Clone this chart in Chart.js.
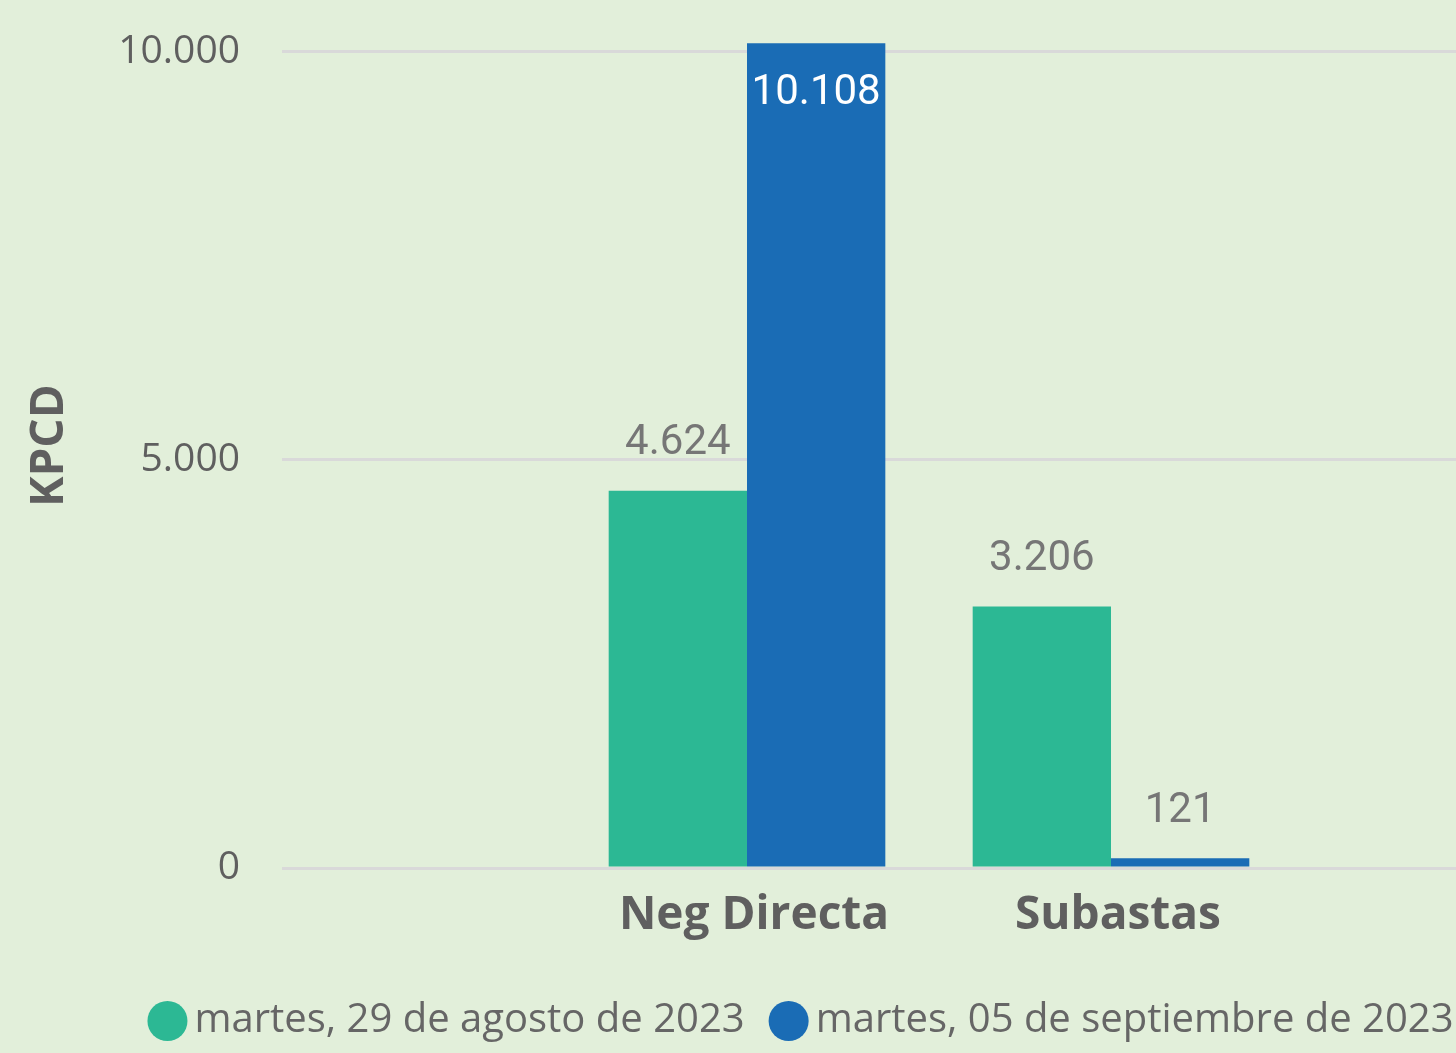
<!DOCTYPE html>
<html lang="es">
<head>
<meta charset="utf-8">
<title>KPCD</title>
<script src="https://cdn.jsdelivr.net/npm/chart.js@4.4.0/dist/chart.umd.min.js"></script>
<style>
	html, body { margin: 0; padding: 0; background: #E2EFDA; }
	#chart-wrapper { width: 1456px; height: 1053px; }
</style>
</head>
<body>
<div id="chart-wrapper"><canvas id="kpcd-chart" width="1456" height="1053"></canvas></div>
<script>
// Chart data (KPCD)
const categories = ['Neg Directa', 'Subastas'];
const seriesLabels = ['martes, 29 de agosto de 2023', 'martes, 05 de septiembre de 2023'];
const valuesAug29 = [4624, 3206];
const valuesSep05 = [10108, 121];
const yTicks = [0, 5000, 10000];

const seriesColors = ['#2CB894', '#1A6CB5'];
const textGray = '#5F5F5F';

/* 10000 -> "10.000" */
function formatNumber(value) {
	return value.toString().replace(/\B(?=(\d{3})+(?!\d))/g, '.');
}

// Categories sit at x = 1, 2 on a linear axis
function toPoints(values) {
	return values.map((value, i) => ({ x: i + 1, y: value }));
}

/* Value labels over the bars, inside the bar when there is no room above */
const valueLabels = {
	id: 'valueLabels',
	afterDatasetsDraw(chart) {
		const ctx = chart.ctx;
		ctx.save();
		ctx.font = '42px Roboto';
		ctx.textAlign = 'center';
		ctx.textBaseline = 'middle';
		chart.data.datasets.forEach((dataset, i) => {
			chart.getDatasetMeta(i).data.forEach((bar, j) => {
				const text = formatNumber(dataset.data[j].y);
				let y = bar.y - 47;
				if (y - 16 < chart.chartArea.top) {
					y = bar.y + 50;
					ctx.fillStyle = '#FFFFFF';
				} else {
					ctx.fillStyle = '#767676';
				}
				ctx.fillText(text, bar.x, y);
			});
		});
		ctx.restore();
	}
};

/* Legend sits a bit to the right, like in the original report */
const legendShift = {
	id: 'legendShift',
	afterLayout(chart) {
		chart.legend.left += 79;
		chart.legend.right += 79;
	}
};

const ctx = document.getElementById('kpcd-chart').getContext('2d');

new Chart(ctx, {
	type: 'bar',
	data: {
		datasets: [{
			label: seriesLabels[0],
			data: toPoints(valuesAug29),
			backgroundColor: seriesColors[0]
		}, {
			label: seriesLabels[1],
			data: toPoints(valuesSep05),
			backgroundColor: seriesColors[1]
		}]
	},
	options: {
		responsive: false,
		animation: false,
		layout: { padding: { top: 0, bottom: 2, left: 0, right: 0 } },
		datasets: {
			bar: { barPercentage: 1, categoryPercentage: 0.76 }
		},
		plugins: {
			tooltip: { enabled: false },
			legend: {
				position: 'bottom',
				labels: {
					usePointStyle: true,
					pointStyle: 'circle',
					boxWidth: 14,
					boxHeight: 28.3,
					padding: 37,
					color: '#666666',
					font: { family: 'Open Sans', size: 40 }
				}
			}
		},
		scales: {
			x: {
				type: 'linear',
				min: -0.2775,
				max: 2.9478,
				offset: false,
				grid: { display: false, drawTicks: false, offset: false },
				border: { display: false },
				afterBuildTicks: scale => {
					scale.ticks = categories.map((c, i) => ({ value: i + 1 }));
				},
				ticks: {
					autoSkip: false,
					padding: 1,
					labelOffset: 7,
					color: textGray,
					font: { family: 'Open Sans', size: 46, weight: 'bold', lineHeight: 94 / 46 },
					callback: value => categories[value - 1]
				}
			},
			y: {
				min: 0,
				max: 10350,
				grid: { color: '#D9D9D9', lineWidth: 3, drawTicks: true, tickLength: 42, tickColor: 'rgba(0,0,0,0)' },
				border: { display: false },
				afterBuildTicks: scale => {
					scale.ticks = yTicks.map(v => ({ value: v }));
				},
				afterFit: scale => {
					scale.width = 282;
				},
				ticks: {
					padding: 0,
					color: textGray,
					font: { family: 'Open Sans', size: 39 },
					callback: value => formatNumber(value)
				},
				title: {
					display: true,
					text: 'KPCD',
					color: textGray,
					font: { family: 'Open Sans', size: 46, weight: 'bold' },
					padding: { top: 22, bottom: 0 }
				}
			}
		}
	},
	plugins: [valueLabels, legendShift]
});
</script>
</body>
</html>
